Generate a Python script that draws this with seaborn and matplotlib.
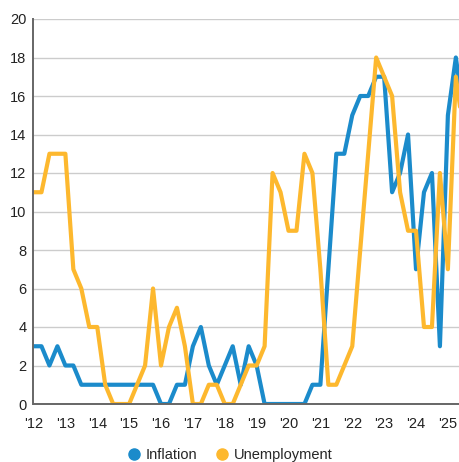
import numpy as np
import pandas as pd
import seaborn as sns
import matplotlib.pyplot as plt
from matplotlib.lines import Line2D

# quarterly observations, 2012 Q1 .. 2025 Q3
quarters = np.arange(2012, 2025.51, 0.25)
inflation = [3, 3, 2, 3,
             2, 2, 1, 1,
             1, 1, 1, 1,
             1, 1, 1, 1,
             0, 0, 1, 1,
             3, 4, 2, 1,
             2, 3, 1, 3,
             2, 0, 0, 0,
             0, 0, 0, 1,
             1, 7, 13, 13,
             15, 16, 16, 17,
             17, 11, 12, 14,
             7, 11, 12, 3,
             15, 18, 15]
unemployment = [11, 11, 13, 13,
                13, 7, 6, 4,
                4, 1, 0, 0,
                0, 1, 2, 6,
                2, 4, 5, 3,
                0, 0, 1, 1,
                0, 0, 1, 2,
                2, 3, 12, 11,
                9, 9, 13, 12,
                7, 1, 1, 2,
                3, 8, 13, 18,
                17, 16, 11, 9,
                9, 4, 4, 12,
                7, 17, 14]
series_names = ["Inflation", "Unemployment"]
series_colors = ["#1B8BCB", "#FDB82E"]
year_ticks = list(range(2012, 2026))
year_labels = ["'" + str(y)[2:] for y in year_ticks]
y_ticks = list(range(0, 21, 2))

df = pd.DataFrame({
    "quarter": np.concatenate([quarters, quarters]),
    "value": inflation + unemployment,
    "series": [series_names[0]] * len(quarters) + [series_names[1]] * len(quarters),
})

sns.set_style("white")
plt.rcParams["font.family"] = ["Liberation Sans", "DejaVu Sans"]

fig = plt.figure(figsize=(4.6, 4.62), dpi=100)
ax = fig.add_axes([33.5 / 460, 58 / 462, 1 - 33.5 / 460, 385 / 462])

sns.lineplot(
    data=df,
    x="quarter",
    y="value",
    hue="series",
    palette=dict(zip(series_names, series_colors)),
    linewidth=3.0,
    legend=False,
    ax=ax,
)

ax.set_xlim(2012, 2025.38)
ax.set_ylim(0, 20)
ax.set_xticks(year_ticks)
ax.set_xticklabels(year_labels)
ax.set_yticks(y_ticks)
ax.set_xlabel("")
ax.set_ylabel("")
ax.yaxis.grid(True, color="#CCCCCC", linewidth=1)
ax.set_axisbelow(True)

for side in ["top", "right"]:
    ax.spines[side].set_visible(False)
for side in ["left", "bottom"]:
    ax.spines[side].set_color("#666666")
    ax.spines[side].set_linewidth(1.4)

ax.tick_params(axis="x", length=4, width=1, color="#666666", pad=5, labelsize=10.5, labelcolor="#222222")
ax.tick_params(axis="y", length=0, pad=5, labelsize=10.5, labelcolor="#222222")

handles = [Line2D([], [], marker="o", linestyle="", markersize=8, color=c) for c in series_colors]
fig.legend(
    handles,
    series_names,
    loc="center",
    bbox_to_anchor=(230 / 460, 1 - 455 / 462),
    ncol=2,
    frameon=False,
    handlelength=1.0,
    handletextpad=0.3,
    columnspacing=1.2,
    fontsize=10.5,
)

fig.savefig("out.png", dpi=100)
